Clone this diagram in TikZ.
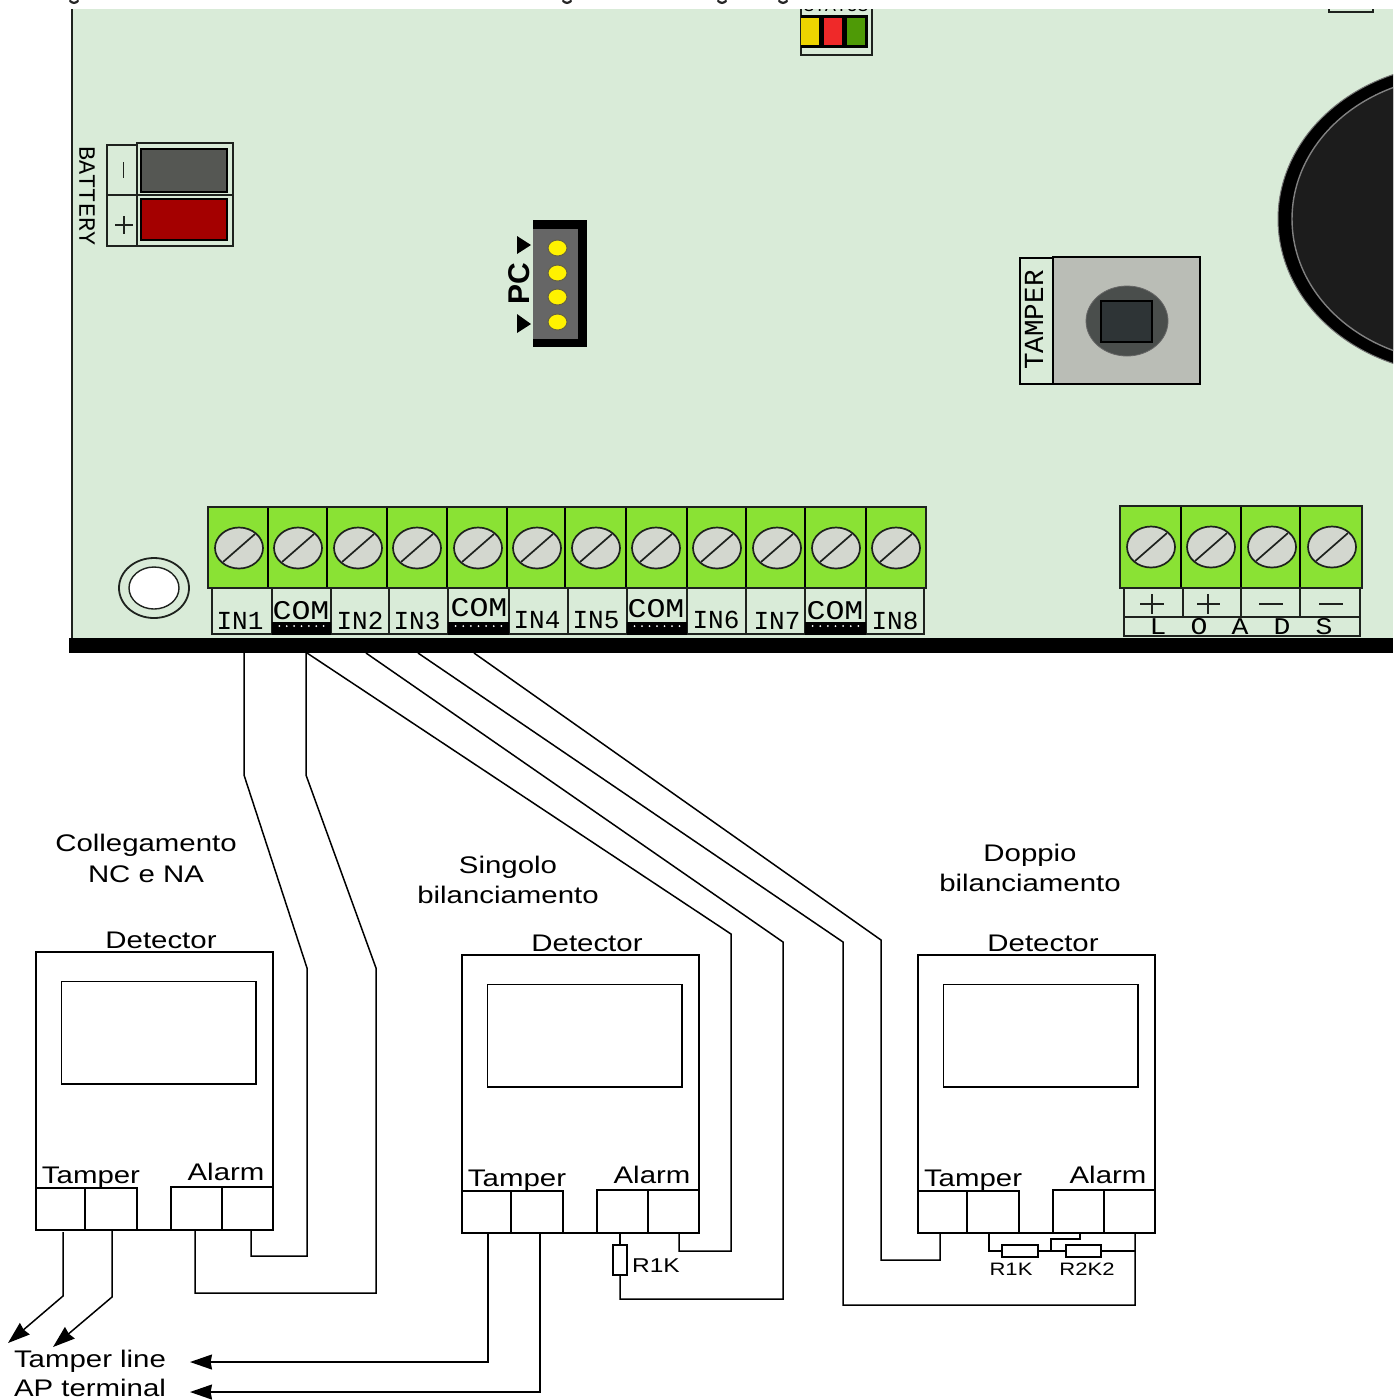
\documentclass[tikz,border=0pt]{standalone}
\usepackage{fontspec}
\setmainfont{Liberation Sans}
\newfontfamily\lab[FakeStretch=1.225]{Liberation Sans}
\newfontfamily\pcb{Liberation Mono}
\newfontfamily\pcbwide[FakeStretch=1.17]{Liberation Mono}
\usetikzlibrary{arrows.meta,shapes.geometric}
\definecolor{board}{RGB}{217,235,216}
\definecolor{termgreen}{HTML}{8AE234}
\definecolor{screwgrey}{HTML}{D3D7CF}
\definecolor{edgegrey}{RGB}{30,34,30}
\definecolor{ledyellow}{HTML}{EDD400}
\definecolor{ledred}{HTML}{EF2929}
\definecolor{ledgreen}{HTML}{4E9A06}
\definecolor{batgrey}{HTML}{555753}
\definecolor{batred}{HTML}{A40000}
\definecolor{swbody}{HTML}{BABDB6}
\definecolor{swdark}{HTML}{2E3436}
\definecolor{swround}{RGB}{74,78,76}
\tikzset{
  wire/.style={line width=0.75pt,black,line join=miter},
  arrowwire/.style={wire,-{Stealth[length=11pt,width=7.5pt,inset=0.7pt]}},
  cellbox/.style={rectangle,draw=black,line width=0.75pt,inner sep=0pt,outer sep=0pt},
  screenbox/.style={cellbox,line width=0.6pt},
  pcbbox/.style={rectangle,draw=edgegrey,line width=0.7pt,inner sep=0pt,outer sep=0pt},
  pcbtext/.style={inner sep=0pt,font=\pcb\fontsize{13}{13}\selectfont,text=black},
  comtext/.style={inner sep=0pt,font=\pcbwide\fontsize{13.5}{13.5}\selectfont,text=black},
  bigtext/.style={anchor=base,inner sep=0pt,font=\lab\fontsize{12}{14}\selectfont},
  restext/.style={anchor=base,inner sep=0pt,font=\lab\fontsize{9}{11}\selectfont},
}
% name, x1, y1, x2, y2, style (pixels of the reference)
\newcommand{\mybox}[6]{\node[#6,minimum width={(#4-(#2))*0.5pt},minimum height={(#5-(#3))*0.5pt}] (#1) at ({(#2+#4)/2},{(#3+#5)/2}) {};}
\newcommand{\myscrew}[2]{%
  \draw[edgegrey,line width=0.85pt,fill=screwgrey] (#1,#2) ellipse [x radius=24,y radius=20.5];
  \draw[edgegrey,line width=0.85pt] (#1-16,#2+14) -- (#1+16,#2-14);}
\newcommand{\mydetector}[3]{%
 \begin{scope}[shift={(#2,#3)}]
  \mybox{#1box}{36}{952}{273}{1230}{cellbox}
  \mybox{#1scr}{61.5}{981.5}{256}{1084}{screenbox}
  \mybox{#1ta}{36}{1188}{85}{1230}{cellbox}
  \mybox{#1tb}{85}{1188}{137}{1230}{cellbox}
  \mybox{#1aa}{171}{1187}{222}{1230}{cellbox}
  \mybox{#1ab}{222}{1187}{273}{1230}{cellbox}
  \node[bigtext] (#1det) at (161,948) {Detector};
  \node[bigtext] (#1tam) at (91,1183) {Tamper};
  \node[bigtext] (#1ala) at (226,1180) {Alarm};
 \end{scope}}
\begin{document}
\begin{tikzpicture}[x=0.5pt,y=-0.5pt]
\useasboundingbox (0,0) rectangle (1400,1399);
\fill[white] (0,0) rectangle (1400,1399);

% traces of the cropped heading
\foreach \gx in {74,567,722,783}
  \draw[black!85,line width=1.1pt,line cap=round] (\gx-4,1) .. controls (\gx-1,3.5) and (\gx+1,3.5) .. (\gx+4,1);

% board
\fill[board] (72,9) rectangle (1393,640);
\draw[edgegrey,line width=1pt] (72,9) -- (72,640);
\begin{scope}
\clip (72,9) rectangle (1393,660);

% top-right box edge
\draw[edgegrey,line width=0.8pt] (1329,9) -- (1329,12) -- (1373,12) -- (1373,9);

% status LEDs
\mybox{stat}{801}{4}{872}{55}{pcbbox}
\begin{scope}
 \clip (790,9) rectangle (880,15);
 \node[pcbtext,font=\pcb\fontsize{9}{9}\selectfont] (stattxt) at (836,6) {STATUS};
\end{scope}
\fill[black] (801,15) rectangle (868,48);
\fill[ledyellow] (801,18) rectangle (819,45);
\fill[ledred] (824,18) rectangle (842,45);
\fill[ledgreen] (847,18) rectangle (865,45);

% speaker
\draw[black!55,line width=0.5pt,fill=black] (1459,219) ellipse [x radius=181,y radius=155];
\draw[black!50,line width=0.7pt,fill=black!89] (1459,219) ellipse [x radius=167,y radius=143];

% battery
\mybox{batL}{107}{145}{137}{195}{pcbbox}
\mybox{batLb}{107}{195}{137}{246}{pcbbox}
\mybox{batR}{137}{143}{233}{195}{pcbbox}
\mybox{batRb}{137}{195}{233}{246}{pcbbox}
\mybox{batneg}{141}{149}{227}{192}{pcbbox,fill=batgrey,draw=black}
\mybox{batpos}{141}{199}{227}{240}{pcbbox,fill=batred,draw=black}
\draw[edgegrey,line width=0.8pt] (123.5,162) -- (123.5,178);
\draw[edgegrey,line width=0.7pt] (115,225) -- (133,225) (124,216) -- (124,234);
\node[pcbtext,rotate=-90,font=\pcb\fontsize{11.7}{12}\selectfont] (battxt) at (87,196) {BATTERY};

% PC connector
\fill[black] (533,220) rectangle (587,347);
\fill[black!60] (533,229) rectangle (578,339);
\foreach \py in {248,273,297,322}
  \draw[black!70!yellow,line width=0.5pt,fill=yellow] (557.5,\py) ellipse [x radius=9.5,y radius=8];
\fill[black] (517,236) -- (531,245) -- (517,254) -- cycle;
\fill[black] (517,314) -- (531,324) -- (517,333) -- cycle;
\node[inner sep=0pt,rotate=90,font=\bfseries\fontsize{15}{15}\selectfont] (pctxt) at (519,284) {PC};

% tamper switch
\mybox{tamlab}{1020}{258}{1053}{384}{pcbbox,draw=black}
\mybox{tambody}{1053}{257}{1200}{384}{pcbbox,draw=black,fill=swbody}
\draw[black!60,line width=0.4pt,fill=swround] (1127,321) ellipse [x radius=41,y radius=35];
\mybox{tambtn}{1101}{301}{1152}{342}{pcbbox,draw=black,fill=swdark}
\node[pcbtext,rotate=90,font=\pcb\fontsize{13.8}{14}\selectfont] (tamtxt) at (1034,320) {TAMPER};

% mounting hole
\draw[edgegrey,line width=0.9pt] (154,588) ellipse [x radius=35,y radius=30];
\draw[edgegrey,line width=0.7pt,fill=white] (154,588) ellipse [x radius=25,y radius=21];

% left terminal labels
\foreach \a/\b in {212/272,272/331,331/389,389/448,448/509,509/568,568/627,627/687,687/746,746/805,805/866,866/924}
  \draw[edgegrey,line width=0.7pt] (\a,588) rectangle (\b,634);
\foreach \a/\b in {272/331,448/509,627/687,805/866}{
  \fill[black] (\a,622) rectangle (\b,635);
  \foreach \k in {1,...,7} {\fill[white] ({\a+(\b-\a)*\k/8},626) circle (1);}
}
\node[pcbtext] (in1) at (240,621) {IN1};
\node[comtext] (com1) at (301,611) {COM};
\node[pcbtext] (in2) at (360,621) {IN2};
\node[pcbtext] (in3) at (417,621) {IN3};
\node[comtext] (com2) at (479,608) {COM};
\node[pcbtext] (in4) at (537,620) {IN4};
\node[pcbtext] (in5) at (596,620) {IN5};
\node[comtext] (com3) at (656,609) {COM};
\node[pcbtext] (in6) at (716,620) {IN6};
\node[pcbtext] (in7) at (777,621) {IN7};
\node[comtext] (com4) at (835,611) {COM};
\node[pcbtext] (in8) at (895,621) {IN8};

% left terminal block
\fill[termgreen] (208,507) rectangle (926,588);
\foreach \dx in {268,327,387,507,565,626,746,805,866}
  \draw[black,line width=0.7pt] (\dx,507) -- (\dx,588);
\foreach \dx in {447,687}
  \draw[black,line width=1pt] (\dx,507) -- (\dx,588);
\draw[edgegrey,line width=0.8pt] (208,507) rectangle (926,588);
\foreach \sx in {239,298,358,417,478,537,596,656,717,777,836,896}
  {\myscrew{\sx}{548}}

% load labels
\draw[edgegrey,line width=0.7pt] (1124,588) rectangle (1360,636);
\draw[edgegrey,line width=0.7pt] (1124,617) -- (1360,617);
\foreach \dx in {1183,1241,1300}
  \draw[edgegrey,line width=0.7pt] (\dx,588) -- (\dx,617);
\draw[edgegrey,line width=0.7pt] (1140,604) -- (1164,604) (1152,594) -- (1152,614);
\draw[edgegrey,line width=0.7pt] (1197,604) -- (1220,604) (1208,594) -- (1208,614);
\draw[edgegrey,line width=0.7pt] (1259,604) -- (1283,604) (1319,604) -- (1343,604);
\foreach \lx/\lt in {1158/L,1199/O,1240/A,1282/D,1324/S}
  \node[pcbtext,font=\pcbwide\fontsize{12}{12}\selectfont] (load\lt) at (\lx,627) {\lt};

% load terminal block
\fill[termgreen] (1120,506) rectangle (1362,588);
\foreach \dx in {1181,1241,1300}
  \draw[black,line width=0.7pt] (\dx,506) -- (\dx,588);
\draw[edgegrey,line width=0.8pt] (1120,506) rectangle (1362,588);
\foreach \sx in {1151,1211,1272,1332}
  {\myscrew{\sx}{547}}

% board edge
\fill[black] (69,638) rectangle (1393,653);
\end{scope}
\fill[black] (69,638) rectangle (72,653);

% headings
\node[bigtext] (h1a) at (146,851) {Collegamento};
\node[bigtext] (h1b) at (146,882) {NC e NA};
\node[bigtext] (h2a) at (508,873) {Singolo};
\node[bigtext] (h2b) at (508,903) {bilanciamento};
\node[bigtext] (h3a) at (1030,861) {Doppio};
\node[bigtext] (h3b) at (1030,891) {bilanciamento};

% detectors
\mydetector{L}{0}{0}
\mydetector{M}{426}{3}
\mydetector{R}{882}{3}

% named points of the wiring
\coordinate (a1) at (244,653);  \coordinate (a2) at (244,775);  \coordinate (a3) at (307,968);
\coordinate (a4) at (307,1256); \coordinate (a5) at (251,1256); \coordinate (a6) at (251,1230);
\coordinate (b1) at (306,653);  \coordinate (b2) at (306,775);  \coordinate (b3) at (376,968);
\coordinate (b4) at (376,1293); \coordinate (b5) at (195,1293); \coordinate (b6) at (195,1230);
\coordinate (c1) at (307,653);  \coordinate (c2) at (731,934);  \coordinate (c3) at (731,1251);
\coordinate (c4) at (679,1251); \coordinate (c5) at (679,1233);
\coordinate (d1) at (366,653);  \coordinate (d2) at (783,942);  \coordinate (d3) at (783,1299);
\coordinate (d4) at (620,1299);
\coordinate (e1) at (418,653);  \coordinate (e2) at (843,942);  \coordinate (e3) at (843,1305);
\coordinate (e4) at (1135,1305);\coordinate (e5) at (1135,1233);
\coordinate (f1) at (474,653);  \coordinate (f2) at (881,940);  \coordinate (f3) at (881,1260);
\coordinate (f4) at (940,1260); \coordinate (f5) at (940,1233);
\coordinate (t1) at (63,1232);  \coordinate (t2) at (63,1296);  \coordinate (t3) at (8,1343);
\coordinate (u1) at (112,1230); \coordinate (u2) at (112,1297); \coordinate (u3) at (53,1347);
\coordinate (v1) at (488,1233); \coordinate (v2) at (488,1362); \coordinate (v3) at (190,1362);
\coordinate (w1) at (540,1233); \coordinate (w2) at (540,1392); \coordinate (w3) at (190,1392);

\draw[wire] (a1) -- (a2) -- (a3) -- (a4) -- (a5) -- (a6);
\draw[wire] (b1) -- (b2) -- (b3) -- (b4) -- (b5) -- (b6);
\draw[wire] (c1) -- (c2) -- (c3) -- (c4) -- (c5);
\draw[wire] (e1) -- (e2) -- (e3) -- (e4) -- (e5);
\draw[wire] (f1) -- (f2) -- (f3) -- (f4) -- (f5);
\draw[arrowwire] (t1) -- (t2) -- (t3);
\draw[arrowwire] (u1) -- (u2) -- (u3);
\draw[arrowwire] (v1) -- (v2) -- (v3);
\draw[arrowwire] (w1) -- (w2) -- (w3);

% resistors, single balance
\mybox{r1m}{613}{1245}{627}{1275}{cellbox}
\coordinate (mt) at (620,1233);
\draw[wire] (mt) -- (r1m.north);
\draw[wire] (d1) -- (d2) -- (d3) -- (d4) -- (r1m.south);
\node[restext,font=\lab\fontsize{10}{12}\selectfont] (r1mt) at (656,1272) {R1K};

% resistors, double balance
\mybox{r1d}{1002}{1245}{1038}{1257}{cellbox}
\mybox{r2d}{1066}{1245}{1101}{1257}{cellbox}
\coordinate (g1) at (989,1233); \coordinate (g2) at (989,1251);
\coordinate (j1) at (1051,1251); \coordinate (j2) at (1051,1239);
\coordinate (j3) at (1080,1239); \coordinate (j4) at (1080,1233);
\coordinate (k1) at (1135,1251);
\draw[wire] (g1) -- (g2) -- (r1d.west);
\draw[wire] (r1d.east) -- (r2d.west);
\draw[wire] (r2d.east) -- (k1);
\draw[wire] (j1) -- (j2) -- (j3) -- (j4);
\node[restext] (r1dt) at (1011,1275) {R1K};
\node[restext] (r2dt) at (1087,1275) {R2K2};

% texts of the tamper line
\node[bigtext] (tl) at (90,1367) {Tamper line};
\node[bigtext] (ap) at (90,1396) {AP terminal};
\end{tikzpicture}
\end{document}
